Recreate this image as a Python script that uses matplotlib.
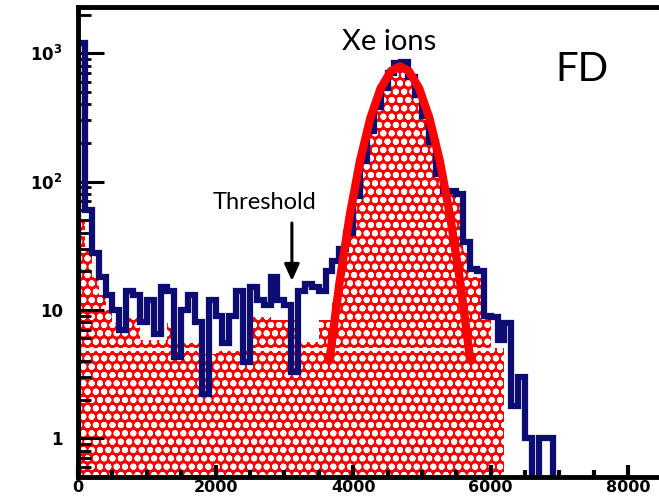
import numpy as np
import matplotlib.pyplot as plt
from matplotlib.ticker import FixedLocator, FixedFormatter, MultipleLocator, LogLocator, NullFormatter

plt.rcParams['mathtext.default'] = 'bf'
plt.rcParams['mathtext.fontset'] = 'dejavusans'
plt.rcParams['hatch.linewidth'] = 2.0

# histogram bins, 100 wide from 0 to 8000
bin_edges = np.arange(0, 8100, 100)

# all events (blue outline)
blue_counts = [1200, 60, 28, 18, 13, 10, 7, 14, 13, 8,
               12, 6.5, 15, 14, 4.3, 10, 13, 8, 2.2, 12,
               9, 5.5, 9, 14, 3.9, 15, 12, 11, 18, 12,
               11, 3.3, 14, 16, 15, 14, 20, 24, 30, 40,
               77, 145, 247, 382, 532, 700, 840, 860, 650, 471,
               325, 202, 114, 85, 85, 80, 34, 21, 20, 9,
               8.8, 5.8, 7.9, 1.8, 3, 1, 0, 1, 1, 0,
               0, 0, 0, 0, 0, 0, 0, 0, 0, 0]

# selected events (red hatched fill)
red_counts = [50, 30, 18, 13, 10, 7.9, 7.9, 8.6, 8.6, 5.8,
              5.8, 5.8, 5.8, 7.9, 5.5, 5.5, 5.5, 5.5, 4.5, 4.5,
              5, 5, 5, 4.8, 4.8, 8.8, 8.8, 8.8, 8.4, 8.4,
              8.4, 8.4, 5.6, 5.6, 5.6, 8.4, 8.4, 12, 25, 38,
              73, 138, 235, 363, 505, 665, 800, 820, 620, 450,
              310, 192, 108, 80, 80, 75, 30, 18, 18, 9.4,
              5.1, 5.1, 0, 0, 0, 0, 0, 0, 0, 0,
              0, 0, 0, 0, 0, 0, 0, 0, 0, 0]

# gaussian fit to the Xe peak
fit_x = [3660, 3800, 3950, 4100, 4250, 4400, 4550, 4680,
         4810, 4960, 5110, 5260, 5410, 5560, 5700]
fit_y = [4.2, 16, 54, 145, 311, 532, 726, 790,
         726, 532, 311, 145, 54, 16, 4.2]

guide_level = 5
guide_end = 6030

xtick_values = [0, 2000, 4000, 6000, 8000]
xtick_labels = ['0', '2000', '4000', '6000', '8000']
ytick_values = [1, 10, 100, 1000]
ytick_labels = ['1', '10', '$10^{2}$', '$10^{3}$']

fig = plt.figure(figsize=(6.59, 5.01), dpi=100)
# right edge of the frame falls outside the picture, as in the original crop
ax = fig.add_axes([78 / 659, 24 / 501, 619 / 659, 470 / 501])

ax.stairs(red_counts, bin_edges, baseline=0.01, fill=True, facecolor='#ff0000',
          edgecolor='white', hatch='oo', linewidth=0, zorder=1)
ax.plot([0, guide_end], [guide_level, guide_level], color='white', lw=2, zorder=2)
ax.stairs(blue_counts, bin_edges, color='#0c0c72', linewidth=4.5, zorder=3)
ax.plot(fit_x, fit_y, color='#ff0000', lw=6, solid_capstyle='round', zorder=4)

ax.set_yscale('log')
ax.set_xlim(0, 9000)
ax.set_ylim(0.5, 2290)

ax.xaxis.set_major_locator(FixedLocator(xtick_values))
ax.xaxis.set_major_formatter(FixedFormatter(xtick_labels))
ax.xaxis.set_minor_locator(MultipleLocator(500))
ax.yaxis.set_major_locator(FixedLocator(ytick_values))
ax.yaxis.set_major_formatter(FixedFormatter(ytick_labels))
ax.yaxis.set_minor_locator(LogLocator(base=10, subs=np.arange(2, 10)))
ax.yaxis.set_minor_formatter(NullFormatter())

ax.tick_params(axis='x', which='major', direction='in', length=9, width=3, pad=2.5,
               labelsize=11.5)
ax.tick_params(axis='x', which='minor', direction='in', length=5, width=3)
ax.tick_params(axis='y', which='major', direction='in', length=19, width=2.2, pad=11,
               labelsize=12)
ax.tick_params(axis='y', which='minor', direction='in', length=9.5, width=2)
for lab in ax.get_xticklabels() + ax.get_yticklabels():
    lab.set_fontweight('bold')

for side in ['left', 'bottom', 'top', 'right']:
    ax.spines[side].set_linewidth(3.5)
    ax.spines[side].set_zorder(6)

ax.text(0.502, 0.926, 'Xe ions', transform=ax.transAxes, ha='center', va='center',
        fontsize=21, family='Lato')
ax.text(0.814, 0.868, 'FD', transform=ax.transAxes, ha='center', va='center',
        fontsize=29, family='Lato')
ax.text(0.302, 0.585, 'Threshold', transform=ax.transAxes, ha='center', va='center',
        fontsize=17, family='Lato')
ax.annotate('', xy=(3110, 16), xytext=(3110, 50),
            arrowprops=dict(arrowstyle='-|>,head_width=0.45,head_length=1.0',
                            color='black', lw=2.2))

plt.savefig('out.png', dpi=100)
plt.close()
